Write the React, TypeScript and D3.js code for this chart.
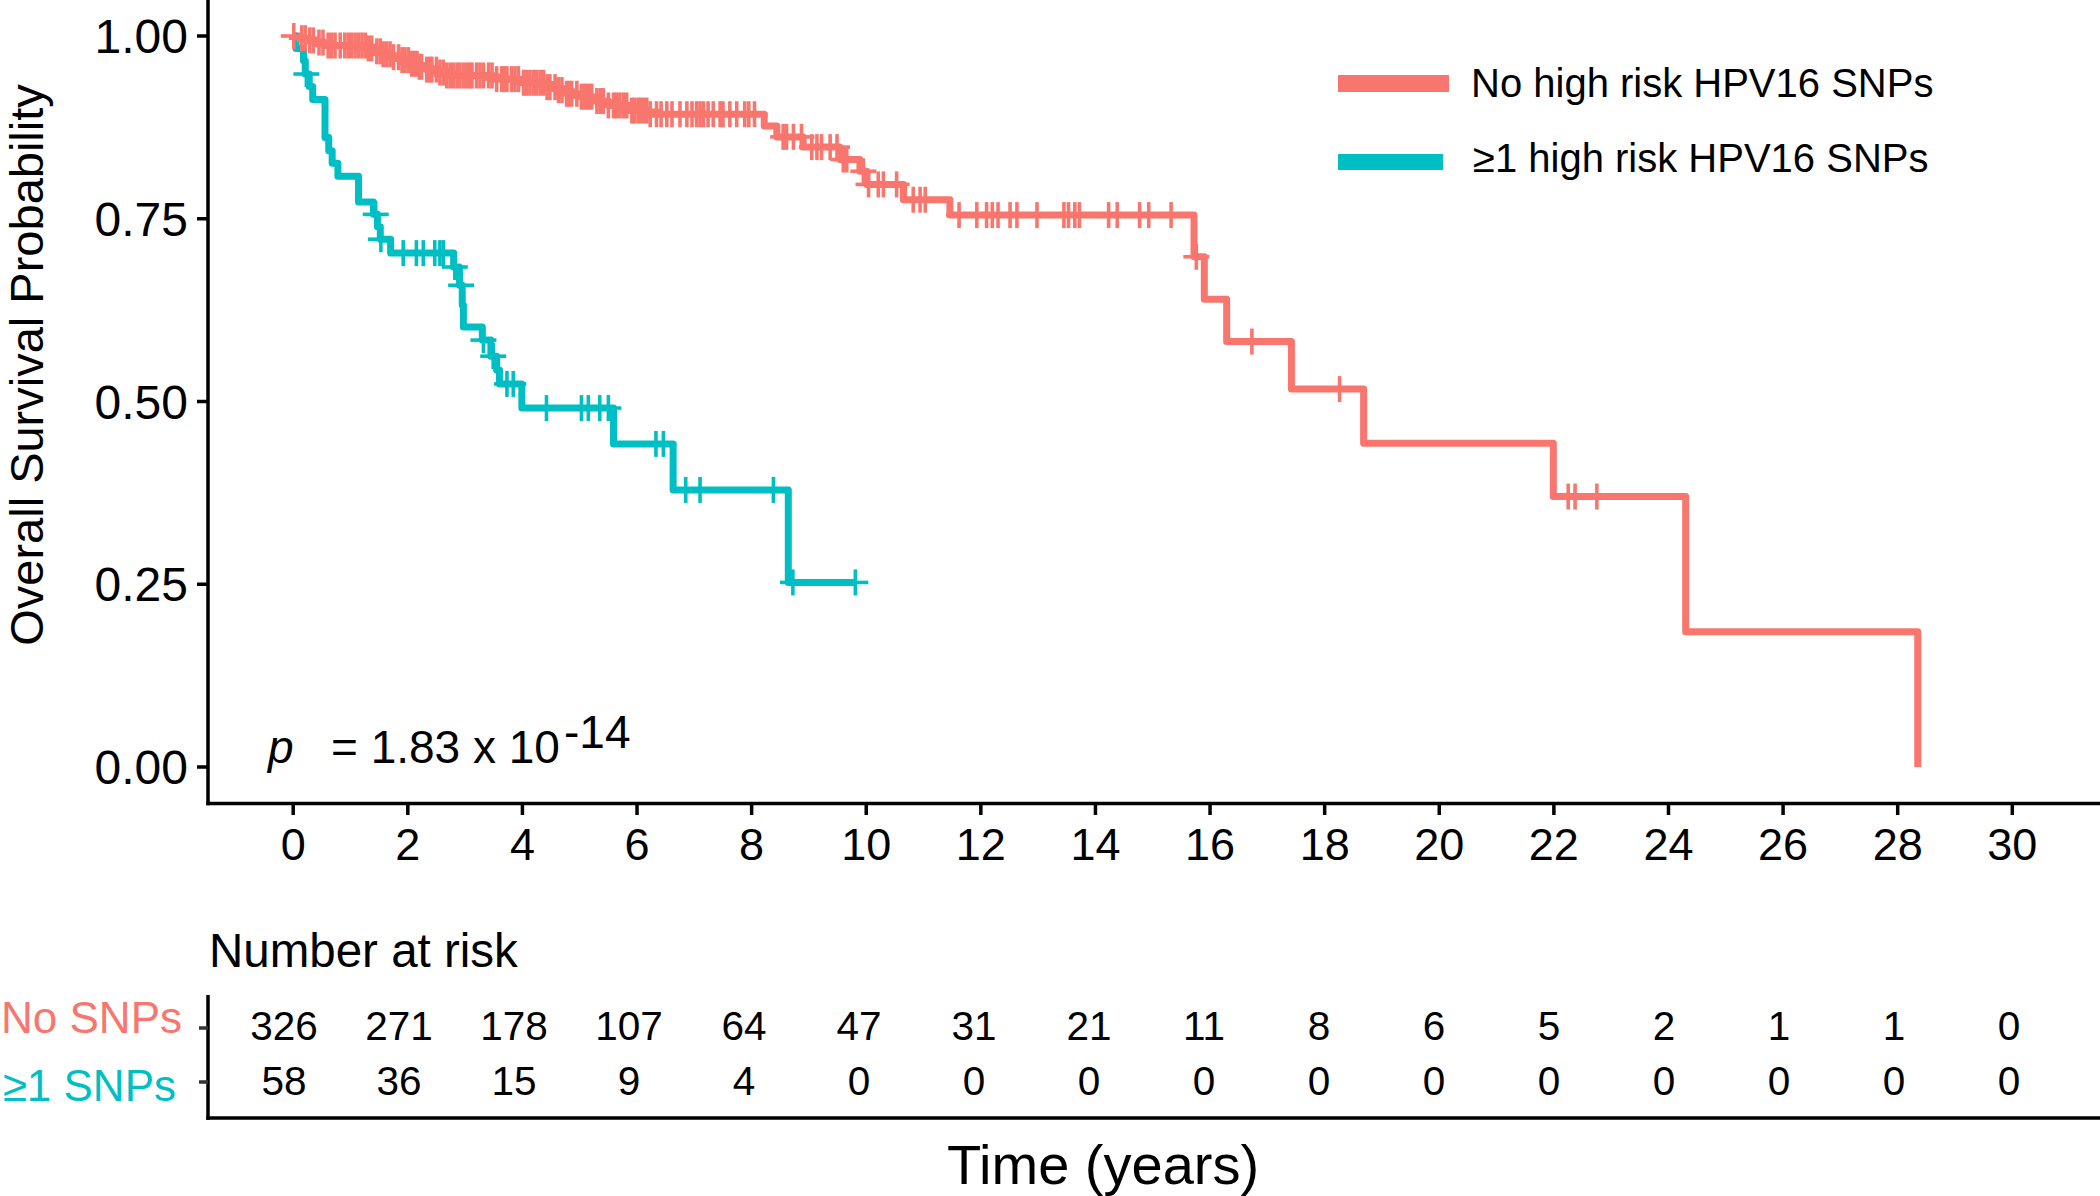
import React from "react";
import * as d3 from "d3";

// ---------- data ----------
const timeTicks = [0, 2, 4, 6, 8, 10, 12, 14, 16, 18, 20, 22, 24, 26, 28, 30];
const survTicks = [0, 0.25, 0.5, 0.75, 1.0];
const survTickLabels = ["0.00", "0.25", "0.50", "0.75", "1.00"];

const groupNames = ["No high risk HPV16 SNPs", "\u22651 high risk HPV16 SNPs"];
const riskLabels = ["No SNPs", "\u22651 SNPs"];
const groupColors = ["#F8766D", "#00BFC4"];

const riskNoSnp = [326, 271, 178, 107, 64, 47, 31, 21, 11, 8, 6, 5, 2, 1, 1, 0];
const riskSnp = [58, 36, 15, 9, 4, 0, 0, 0, 0, 0, 0, 0, 0, 0, 0, 0];

// Kaplan-Meier step points (time, survival after the step)
const redTimes = [0, 0.12, 0.25, 0.4, 0.55, 1.28, 1.4, 1.55, 1.7, 1.86, 2.05, 2.2, 2.33, 2.55, 2.68, 3.49, 3.96, 4.42, 4.6, 4.77, 5.0, 5.24, 5.5, 5.88, 6.2, 8.22, 8.44, 8.9, 9.54, 9.89, 10.01, 10.65, 11.46, 15.72, 15.9, 16.29, 17.42, 18.68, 21.99, 24.3, 28.35];
const redSurv = [1, 0.997, 0.994, 0.991, 0.987, 0.983, 0.979, 0.975, 0.971, 0.967, 0.962, 0.958, 0.954, 0.95, 0.946, 0.941, 0.936, 0.93, 0.926, 0.921, 0.917, 0.911, 0.905, 0.898, 0.893, 0.877, 0.862, 0.848, 0.831, 0.815, 0.797, 0.776, 0.755, 0.698, 0.64, 0.582, 0.517, 0.443, 0.37, 0.185, 0];
const redCensor = [0.01, 0.15, 0.21, 0.29, 0.35, 0.45, 0.52, 0.61, 0.67, 0.73, 0.82, 0.9, 0.96, 1.02, 1.08, 1.14, 1.2, 1.26, 1.31, 1.37, 1.46, 1.52, 1.57, 1.63, 1.69, 1.75, 1.84, 1.9, 1.95, 2.01, 2.07, 2.12, 2.16, 2.2, 2.24, 2.33, 2.38, 2.42, 2.5, 2.56, 2.62, 2.68, 2.74, 2.8, 2.86, 2.91, 2.97, 3.03, 3.08, 3.12, 3.2, 3.26, 3.32, 3.41, 3.47, 3.55, 3.64, 3.69, 3.73, 3.81, 3.87, 3.93, 4.02, 4.07, 4.13, 4.19, 4.25, 4.31, 4.37, 4.43, 4.48, 4.57, 4.63, 4.69, 4.77, 4.82, 4.86, 4.95, 5.03, 5.08, 5.12, 5.17, 5.21, 5.3, 5.36, 5.41, 5.5, 5.59, 5.64, 5.7, 5.76, 5.82, 5.91, 5.96, 6.02, 6.06, 6.11, 6.17, 6.23, 6.34, 6.42, 6.52, 6.61, 6.75, 6.87, 6.96, 7.04, 7.1, 7.16, 7.24, 7.33, 7.45, 7.5, 7.62, 7.74, 7.88, 7.95, 8.05, 8.55, 8.61, 8.73, 8.87, 9.05, 9.14, 9.22, 9.37, 9.49, 9.6, 9.66, 9.95, 10.04, 10.21, 10.3, 10.53, 10.82, 10.94, 11.03, 11.62, 11.93, 12.1, 12.2, 12.3, 12.51, 12.63, 12.98, 13.45, 13.53, 13.64, 13.72, 14.23, 14.38, 14.77, 14.93, 15.32, 15.76, 16.73, 18.26, 22.25, 22.37, 22.75];

const tealTimes = [0, 0.05, 0.18, 0.21, 0.28, 0.34, 0.555, 0.62, 0.68, 0.78, 1.14, 1.4, 1.47, 1.52, 1.7, 2.8, 2.9, 2.95, 2.97, 3.3, 3.45, 3.55, 3.6, 3.99, 5.59, 6.63, 8.64, 9.81];
const tealSurv = [1, 0.983, 0.966, 0.948, 0.931, 0.913, 0.861, 0.843, 0.826, 0.808, 0.773, 0.756, 0.739, 0.722, 0.703, 0.684, 0.659, 0.632, 0.602, 0.584, 0.562, 0.543, 0.524, 0.491, 0.442, 0.379, 0.2525, 0.2525];
const tealCensor = [0.23, 1.44, 1.53, 1.92, 2.15, 2.27, 2.47, 2.56, 2.62, 2.82, 2.93, 3.32, 3.49, 3.73, 3.84, 4.42, 5.03, 5.15, 5.35, 5.5, 6.33, 6.46, 6.85, 7.1, 8.38, 8.72, 9.81];

// ---------- layout ----------
const W = 2100;
const H = 1196;
const FONT = "'Liberation Sans', Arial, Helvetica, sans-serif";
const AXIS_X = 208;
const AXIS_Y = 803.5;
const TABLE_TOP = 995;
const TABLE_BOTTOM = 1118;

const x = d3.scaleLinear().domain([0, 30]).range([293.2, 2012.3]);
const y = d3.scaleLinear().domain([0, 1]).range([767, 36]);
const xRisk = d3.scaleLinear().domain([0, 30]).range([284, 2009]);

const line = d3
  .line<[number, number]>()
  .x((d) => x(d[0]))
  .y((d) => y(d[1]))
  .curve(d3.curveStepAfter);

function stepAt(times: number[], surv: number[], t: number) {
  const i = d3.bisectRight(times, t) - 1;
  return surv[Math.max(0, i)];
}

const series = [
  { times: redTimes, surv: redSurv, censor: redCensor, color: groupColors[0] },
  { times: tealTimes, surv: tealSurv, censor: tealCensor, color: groupColors[1] },
];

export default function App() {
  return (
    <svg
      width={W}
      height={H}
      viewBox={`0 0 ${W} ${H}`}
      style={{ position: "absolute", left: 0, top: 0, background: "#fff" }}
      fontFamily={FONT}
    >
      <rect x={0} y={0} width={W} height={H} fill="#fff" />

      {/* curves */}
      {series.map((s, i) => (
        <path
          key={"l" + i}
          d={line(s.times.map((t, j) => [t, s.surv[j]] as [number, number])) || ""}
          fill="none"
          stroke={s.color}
          strokeWidth={7}
          strokeLinejoin="round"
        />
      ))}
      {/* censor marks */}
      {series.map((s, i) => (
        <g key={"c" + i} stroke={s.color} strokeWidth={3.6}>
          {s.censor.map((t, j) => {
            const cx = x(t);
            const cy = y(stepAt(s.times, s.surv, t));
            return (
              <g key={j}>
                <line x1={cx - 13} x2={cx + 13} y1={cy} y2={cy} />
                <line x1={cx} x2={cx} y1={cy - 13} y2={cy + 13} />
              </g>
            );
          })}
        </g>
      ))}

      {/* axes */}
      <line x1={AXIS_X} x2={AXIS_X} y1={0} y2={AXIS_Y + 1.75} stroke="#000" strokeWidth={3.5} />
      <line x1={AXIS_X - 1.75} x2={W} y1={AXIS_Y} y2={AXIS_Y} stroke="#000" strokeWidth={3.5} />
      {survTicks.map((v, i) => (
        <g key={"yt" + i}>
          <line x1={197} x2={AXIS_X} y1={y(v)} y2={y(v)} stroke="#000" strokeWidth={3.5} />
          <text x={188} y={y(v) + 17} fontSize={48} textAnchor="end" fill="#000">
            {survTickLabels[i]}
          </text>
        </g>
      ))}
      {timeTicks.map((t) => (
        <g key={"xt" + t}>
          <line x1={x(t)} x2={x(t)} y1={AXIS_Y} y2={815} stroke="#000" strokeWidth={3.5} />
          <text x={x(t)} y={860} fontSize={45} textAnchor="middle" fill="#000">
            {t}
          </text>
        </g>
      ))}

      {/* y title */}
      <text
        transform={`translate(43, 365) rotate(-90)`}
        fontSize={47}
        textAnchor="middle"
        fill="#000"
      >
        Overall Survival Probability
      </text>

      {/* p value */}
      <text x={268} y={763} fontSize={46} fontStyle="italic" fill="#000">p</text>
      <text x={331} y={763} fontSize={46} fill="#000">= 1.83 x 10</text>
      <text x={564} y={748} fontSize={46} fill="#000">-14</text>

      {/* legend */}
      <line x1={1338} x2={1449} y1={83.5} y2={83.5} stroke={groupColors[0]} strokeWidth={17} />
      <line x1={1338} x2={1443} y1={162} y2={162} stroke={groupColors[1]} strokeWidth={16} />
      <text x={1471} y={97} fontSize={40} fill="#000">{groupNames[0]}</text>
      <text x={1473} y={172} fontSize={40} fill="#000">{groupNames[1]}</text>

      {/* risk table */}
      <text x={209} y={967} fontSize={47.5} fill="#000">Number at risk</text>
      <line x1={AXIS_X} x2={AXIS_X} y1={TABLE_TOP} y2={TABLE_BOTTOM + 1.75} stroke="#000" strokeWidth={3.5} />
      <line x1={AXIS_X - 1.75} x2={W} y1={TABLE_BOTTOM} y2={TABLE_BOTTOM} stroke="#000" strokeWidth={3.5} />
      <line x1={199} x2={AXIS_X} y1={1028} y2={1028} stroke="#333" strokeWidth={3.5} />
      <line x1={199} x2={AXIS_X} y1={1082} y2={1082} stroke="#333" strokeWidth={3.5} />
      <text x={182} y={1033} fontSize={44} textAnchor="end" fill={groupColors[0]}>{riskLabels[0]}</text>
      <text x={176} y={1101} fontSize={44} textAnchor="end" fill={groupColors[1]}>{riskLabels[1]}</text>
      {timeTicks.map((t, i) => (
        <g key={"r" + t}>
          <text x={xRisk(t)} y={1040} fontSize={40.5} textAnchor="middle" fill="#000">
            {riskNoSnp[i]}
          </text>
          <text x={xRisk(t)} y={1095} fontSize={40.5} textAnchor="middle" fill="#000">
            {riskSnp[i]}
          </text>
        </g>
      ))}

      {/* x title */}
      <text x={1103} y={1184} fontSize={56} textAnchor="middle" fill="#000">
        Time (years)
      </text>
    </svg>
  );
}
